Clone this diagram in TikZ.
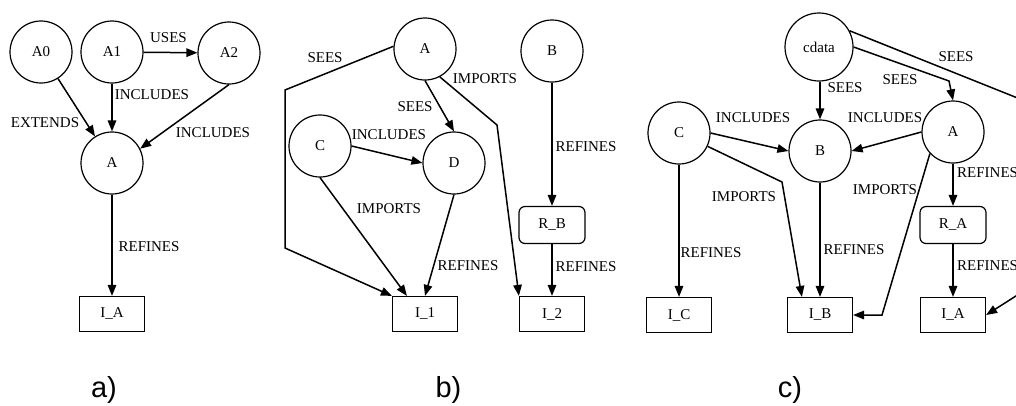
\documentclass[tikz,border=0pt]{standalone}
\usepackage{fontspec}
\setmainfont{Liberation Serif}
\newfontfamily\capfont{Liberation Sans}
\usetikzlibrary{arrows.meta,calc}
\begin{document}
\begin{tikzpicture}[x=1pt,y=-1pt,
  every node/.style={font=\fontsize{15}{17}\selectfont},
  modnode/.style={draw,circle,line width=1.2pt,minimum size=62pt,inner sep=0pt},
  implnode/.style={draw,rectangle,line width=1.2pt,minimum width=65pt,minimum height=35pt,inner sep=0pt},
  refnode/.style={draw,rectangle,rounded corners=6pt,line width=1.2pt,minimum width=66pt,minimum height=37pt,inner sep=0pt},
  rel/.style={draw,line width=1.5pt,-{Triangle[length=11pt,width=8.5pt]}},
  lbl/.style={inner sep=0pt},
  partlabel/.style={font=\capfont\fontsize{29}{31}\selectfont,inner sep=0pt,anchor=base}]
\useasboundingbox (0,0) rectangle (1016,405);
\clip (0,0) rectangle (1016,405);

% ---------- a) ----------
\node[modnode] (a0) at (41,52) {A0};
\node[modnode] (a1) at (112,52) {A1};
\node[modnode] (a2) at (229,53) {A2};
\node[modnode] (aA) at (112,163) {A};
\node[implnode] (aIA) at (112,314) {I\_A};

\draw[rel] (a1) -- (a2);
\draw[rel] (a1) -- (aA);
\draw[rel] (a0) -- (aA);
\draw[rel] (a2.south) -- (aA.27);
\draw[rel] (aA) -- (aIA);

\node[lbl] (la1) at (168.5,38) {USES};
\node[lbl] (la2) at (152,95) {INCLUDES};
\node[lbl] (la3) at (45,123) {EXTENDS};
\node[lbl] (la4) at (213,133) {INCLUDES};
\node[lbl] (la5) at (149,247) {REFINES};
\node[partlabel] (capa) at (104,397) {a)};

% ---------- b) ----------
\node[modnode] (bA) at (425,49) {A};
\node[modnode] (bB) at (552,51) {B};
\node[modnode] (bC) at (320,146) {C};
\node[modnode] (bD) at (454,163) {D};
\node[refnode] (bRB) at (552,225) {R\_B};
\node[implnode] (bI1) at (425,314) {I\_1};
\node[implnode] (bI2) at (552,314) {I\_2};

\coordinate (bs1) at (285,90);
\coordinate (bs2) at (285,248);
\coordinate (bm1) at (497,125);

\draw[rel] (bA.175) -- (bs1) -- (bs2) -- (bI1.north west);
\draw[rel] (bA.south) -- (bD.north);
\draw[rel] (bA.-62) -- (bm1) -- (bI2.north west);
\draw[rel] (bC.east) -- (bD.west);
\draw[rel] (bC.south) -- ([xshift=15pt]bI1.north west);
\draw[rel] (bD.south) -- (bI1.north);
\draw[rel] (bB) -- (bRB);
\draw[rel] (bRB) -- (bI2);

\node[lbl] (lb1) at (325,58) {SEES};
\node[lbl] (lb2) at (485,79) {IMPORTS};
\node[lbl] (lb3) at (415,107) {SEES};
\node[lbl] (lb4) at (389,135) {INCLUDES};
\node[lbl] (lb5) at (586,147) {REFINES};
\node[lbl] (lb6) at (389,209) {IMPORTS};
\node[lbl] (lb7) at (468,266) {REFINES};
\node[lbl] (lb8) at (586,267) {REFINES};
\node[partlabel] (capb) at (448.5,397) {b)};

% ---------- c) ----------
\node[modnode,minimum size=68pt] (cdata) at (819,47) {cdata};
\node[modnode] (cC) at (679,133) {C};
\node[modnode] (cB) at (820,151) {B};
\node[modnode] (cA) at (953,132) {A};
\node[refnode] (cRA) at (953,225) {R\_A};
\node[implnode] (cIA) at (953,315) {I\_A};
\node[implnode] (cIB) at (820,315) {I\_B};
\node[implnode] (cIC) at (679,315) {I\_C};

\coordinate (cs1) at (949,81);
\coordinate (cs2) at (1030,103);
\coordinate (cs3) at (1030,287);
\coordinate (cm1) at (782,182);
\coordinate (cm2) at (882,315);

\draw[rel] (cdata.south -| cB.north) -- (cB.north);
\draw[rel] (cdata.east) -- (cs1) -- (cA.north);
\draw[rel] (cdata.28) -- (cs2) -- (cs3) -- (cIA.east);
\draw[rel] (cC.east) -- (cB.west);
\draw[rel] (cC.-25) -- (cm1) -- ([xshift=15pt]cIB.north west);
\draw[rel] (cC) -- (cIC);
\draw[rel] (cB) -- (cIB);
\draw[rel] (cA.west) -- (cB.east);
\draw[rel] (cA.-137) -- (cm2) -- (cIB.east);
\draw[rel] (cA) -- (cRA);
\draw[rel] (cRA) -- (cIA);

\node[lbl] (lc1) at (845,88) {SEES};
\node[lbl] (lc2) at (900,80) {SEES};
\node[lbl] (lc3) at (956,57) {SEES};
\node[lbl] (lc4) at (753,118) {INCLUDES};
\node[lbl] (lc5) at (885,118) {INCLUDES};
\node[lbl] (lc6) at (744,197) {IMPORTS};
\node[lbl] (lc7) at (885,190) {IMPORTS};
\node[lbl,anchor=west] (lc8) at (957,173) {REFINES};
\node[lbl] (lc9) at (711,253) {REFINES};
\node[lbl] (lc10) at (854,250) {REFINES};
\node[lbl,anchor=west] (lc11) at (957,266) {REFINES};
\node[partlabel] (capc) at (790,397) {c)};
\end{tikzpicture}
\end{document}
